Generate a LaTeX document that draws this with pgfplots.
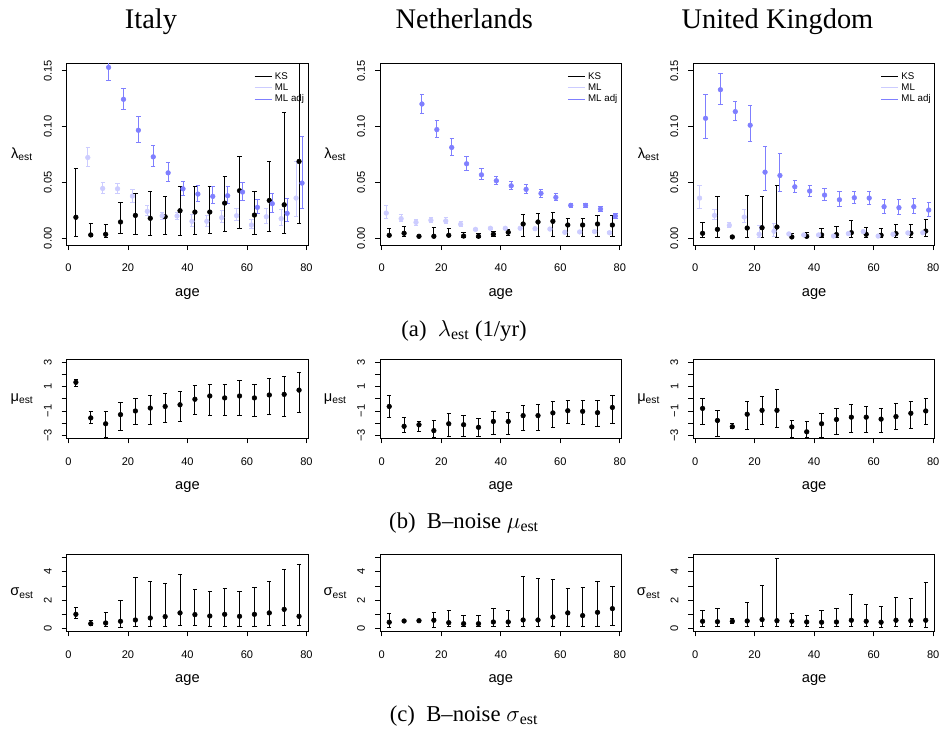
\documentclass[border=0pt]{standalone}
\usepackage{pgfplots}
\pgfplotsset{compat=1.18}
\usepackage{fontspec}
\setmainfont{Liberation Sans}
\newfontfamily\serif{Liberation Serif}
\definecolor{mlcol}{RGB}{204,204,255}
\definecolor{adjcol}{RGB}{127,127,255}
\pgfplotsset{
  rbase/.style={
    scale only axis, width=181.2pt, anchor=south west,
    xmin=-0.6, xmax=80.6, xtick={0,20,40,60,80},
    tick align=outside, xtick pos=bottom, ytick pos=left,
    major tick length=3.75pt, tick style={line width=0.6pt, black},
    axis line style={line width=0.75pt},
    /pgf/number format/assume math mode=true,
    ticklabel style={font=\fontsize{8.3}{10}\selectfont},
    xticklabel shift=7pt,
    yticklabel style={rotate=90, anchor=south},
    yticklabel shift=4pt,
    xlabel={age},
    every axis x label/.style={at={(axis description cs:0.5,0)}, anchor=center, yshift=-36.5pt, font=\fontsize{11}{13}\selectfont},
    every axis y label/.style={at={(axis description cs:0,0.5)}, anchor=center, xshift=-33.5pt, font=\fontsize{11}{13}\selectfont},
    legend image code/.code={\draw[##1] (0pt,0pt) -- (12.75pt,0pt);},
    legend style={at={(1,1)}, anchor=north east, draw=none, fill=none, font=\fontsize{7.3}{8.5}\selectfont, row sep=-2.2pt, cells={anchor=west}, inner sep=1pt, yshift=-3pt},
  },
  lrow/.style={height=135.75pt, ymin=-0.006, ymax=0.156, ytick={0,0.05,0.1,0.15}, yticklabels={0.00,0.05,0.10,0.15}, ylabel={λ\textsubscript{est}}},
  mrow/.style={height=59.25pt, ymin=-3.24, ymax=3.24, ytick={-3,-2,-1,0,1,2,3}, yticklabels={−3,,−1,,1,,3}, ylabel={μ\textsubscript{est}}},
  srow/.style={height=57.45pt, ymin=-0.2, ymax=5.2, ytick={0,1,2,3,4,5}, yticklabels={0,,2,,4,}, ylabel={σ\textsubscript{est}}},
  eb/.style={only marks, mark=*, mark size=1.75pt, forget plot,
    error bars/y dir=both, error bars/y explicit, error bars/error mark=|, error bars/error bar style={line width=0.75pt}, error bars/error mark options={mark size=1.6pt, line width=0.75pt}},
  /pgfplots/table/tb/.style={x=x, y=y, y error plus expr=\thisrow{hi}-\thisrow{y}, y error minus expr=\thisrow{y}-\thisrow{lo}},
}
\newcommand{\leg}{%
  \addlegendimage{black, line width=0.75pt}\addlegendentry{KS}
  \addlegendimage{mlcol, line width=0.75pt}\addlegendentry{ML}
  \addlegendimage{adjcol, line width=0.75pt}\addlegendentry{ML adj}}
\begin{document}
\begin{tikzpicture}
\path[use as bounding box] (0,0) rectangle (705.75pt,-548.25pt);
% titles
\node[anchor=base, inner sep=0pt, font=\serif\fontsize{21.3}{25}\selectfont] at (113.25pt,-21.2pt) {Italy};
\node[anchor=base, inner sep=0pt, font=\serif\fontsize{21.3}{25}\selectfont] at (348.2pt,-21.2pt) {Netherlands};
\node[anchor=base, inner sep=0pt, font=\serif\fontsize{21.3}{25}\selectfont] at (583.1pt,-21.2pt) {United Kingdom};
\node[anchor=base, inner sep=0pt, font=\serif\fontsize{17}{20}\selectfont] at (348pt,-252pt) {(a)~~$\lambda$\textsubscript{est} (1/yr)};
\node[anchor=base, inner sep=0pt, font=\serif\fontsize{17}{20}\selectfont] at (348pt,-396pt) {(b)~~B–noise $\mu$\textsubscript{est}};
\node[anchor=base, inner sep=0pt, font=\serif\fontsize{17}{20}\selectfont] at (348pt,-541pt) {(c)~~B–noise $\sigma$\textsubscript{est}};

% ---------- Row 1: lambda ----------
\begin{axis}[rbase, lrow, at={(50pt,-183.75pt)}]
\leg
\addplot[eb, black] table[tb] {
x y lo hi
2.5 0.0188 0.0020 0.0622
7.5 0.0030 0.0015 0.0130
12.5 0.0036 0.0006 0.0120
17.5 0.0146 0.0045 0.0318
22.5 0.0205 0.0033 0.0400
27.5 0.0179 0.0027 0.0417
32.5 0.0193 0.0033 0.0375
37.5 0.0247 0.0024 0.0461
42.5 0.0235 0.0033 0.0467
47.5 0.0235 0.0042 0.0461
52.5 0.0315 0.0057 0.0554
57.5 0.0426 0.0092 0.0732
62.5 0.0208 0.0030 0.0420
67.5 0.0339 0.0060 0.0690
72.5 0.0300 0.0045 0.1130
77.5 0.0688 0.0134 0.2000
};
\addplot[eb, mlcol] table[tb] {
x y lo hi
6.5 0.0723 0.0640 0.0815
11.5 0.0446 0.0400 0.0500
16.5 0.0443 0.0405 0.0494
21.5 0.0378 0.0324 0.0440
26.5 0.0241 0.0200 0.0295
31.5 0.0202 0.0170 0.0230
36.5 0.0200 0.0167 0.0230
41.5 0.0152 0.0110 0.0210
46.5 0.0152 0.0110 0.0200
51.5 0.0185 0.0137 0.0247
56.5 0.0202 0.0155 0.0265
61.5 0.0119 0.0086 0.0164
66.5 0.0193 0.0134 0.0265
71.5 0.0176 0.0119 0.0259
76.5 0.0360 0.0193 0.0690
};
\addplot[eb, adjcol] table[tb] {
x y lo hi
13.5 0.1530 0.1410 0.1700
18.5 0.1244 0.1149 0.1345
23.5 0.0967 0.0860 0.1086
28.5 0.0729 0.0640 0.0830
33.5 0.0586 0.0512 0.0676
38.5 0.0443 0.0387 0.0512
43.5 0.0396 0.0327 0.0476
48.5 0.0375 0.0307 0.0461
53.5 0.0381 0.0313 0.0467
58.5 0.0414 0.0339 0.0503
63.5 0.0277 0.0226 0.0345
68.5 0.0310 0.0235 0.0405
73.5 0.0223 0.0146 0.0354
78.5 0.0494 0.0265 0.0914
};
\end{axis}

\begin{axis}[rbase, lrow, at={(285pt,-183.75pt)}]
\leg
\addplot[eb, black] table[tb] {
x y lo hi
2.5 0.0027 0.0012 0.0090
7.5 0.0045 0.0020 0.0110
12.5 0.0018 0.0015 0.0021
17.5 0.0018 0.0006 0.0098
22.5 0.0027 0.0012 0.0090
27.5 0.0020 0.0005 0.0054
32.5 0.0018 0.0005 0.0040
37.5 0.0036 0.0012 0.0062
42.5 0.0054 0.0027 0.0080
47.5 0.0128 0.0018 0.0211
52.5 0.0146 0.0020 0.0220
57.5 0.0152 0.0018 0.0229
62.5 0.0119 0.0015 0.0179
67.5 0.0119 0.0015 0.0179
72.5 0.0128 0.0015 0.0202
77.5 0.0119 0.0020 0.0202
};
\addplot[eb, mlcol] table[tb] {
x y lo hi
1.5 0.0226 0.0179 0.0295
6.5 0.0176 0.0146 0.0214
11.5 0.0143 0.0119 0.0164
16.5 0.0161 0.0137 0.0185
21.5 0.0155 0.0128 0.0182
26.5 0.0125 0.0107 0.0146
31.5 0.0080 0.0070 0.0090
36.5 0.0090 0.0080 0.0100
41.5 0.0090 0.0080 0.0100
46.5 0.0090 0.0080 0.0100
51.5 0.0086 0.0076 0.0096
56.5 0.0083 0.0073 0.0093
61.5 0.0054 0.0046 0.0062
66.5 0.0057 0.0049 0.0065
71.5 0.0060 0.0052 0.0068
76.5 0.0050 0.0043 0.0057
};
\addplot[eb, adjcol] table[tb] {
x y lo hi
13.5 0.1202 0.1116 0.1290
18.5 0.0973 0.0899 0.1057
23.5 0.0813 0.0741 0.0890
28.5 0.0667 0.0610 0.0729
33.5 0.0568 0.0527 0.0622
38.5 0.0515 0.0479 0.0557
43.5 0.0470 0.0435 0.0512
48.5 0.0438 0.0402 0.0479
53.5 0.0402 0.0369 0.0438
58.5 0.0366 0.0336 0.0399
63.5 0.0295 0.0274 0.0315
68.5 0.0295 0.0274 0.0315
73.5 0.0262 0.0238 0.0283
78.5 0.0200 0.0179 0.0220
};
\end{axis}

\begin{axis}[rbase, lrow, at={(520pt,-183.75pt)}]
\leg
\addplot[eb, black] table[tb] {
x y lo hi
2.5 0.0045 0.0006 0.0137
7.5 0.0080 0.0010 0.0378
12.5 0.0012 0.0008 0.0016
17.5 0.0092 0.0010 0.0387
22.5 0.0095 0.0010 0.0372
27.5 0.0101 0.0010 0.0470
32.5 0.0012 0.0003 0.0039
37.5 0.0018 0.0003 0.0048
42.5 0.0030 0.0006 0.0090
47.5 0.0033 0.0006 0.0107
52.5 0.0050 0.0010 0.0155
57.5 0.0036 0.0010 0.0098
62.5 0.0027 0.0006 0.0092
67.5 0.0042 0.0010 0.0125
72.5 0.0045 0.0010 0.0125
77.5 0.0065 0.0012 0.0167
};
\addplot[eb, mlcol] table[tb] {
x y lo hi
1.5 0.0360 0.0265 0.0473
6.5 0.0205 0.0167 0.0259
11.5 0.0116 0.0095 0.0137
16.5 0.0190 0.0140 0.0262
21.5 0.0036 0.0005 0.0119
26.5 0.0063 0.0020 0.0130
31.5 0.0039 0.0030 0.0048
36.5 0.0030 0.0022 0.0038
41.5 0.0030 0.0022 0.0038
46.5 0.0020 0.0014 0.0026
51.5 0.0042 0.0032 0.0052
56.5 0.0060 0.0048 0.0072
61.5 0.0020 0.0014 0.0026
66.5 0.0036 0.0028 0.0044
71.5 0.0048 0.0038 0.0058
76.5 0.0050 0.0040 0.0060
};
\addplot[eb, adjcol] table[tb] {
x y lo hi
3.5 0.1074 0.0896 0.1290
8.5 0.1330 0.1200 0.1476
13.5 0.1134 0.1054 0.1223
18.5 0.1012 0.0866 0.1185
23.5 0.0592 0.0432 0.0818
28.5 0.0562 0.0417 0.0756
33.5 0.0461 0.0411 0.0515
38.5 0.0423 0.0378 0.0476
43.5 0.0387 0.0339 0.0443
48.5 0.0345 0.0283 0.0423
53.5 0.0363 0.0310 0.0423
58.5 0.0360 0.0304 0.0423
63.5 0.0283 0.0220 0.0351
68.5 0.0274 0.0214 0.0345
73.5 0.0283 0.0223 0.0354
78.5 0.0253 0.0196 0.0324
};
\end{axis}

% ---------- Row 2: mu ----------
\begin{axis}[rbase, mrow, at={(50pt,-328.7pt)}]
\addplot[eb, black] table[tb] {
x y lo hi
2.5 1.35 1.00 1.62
7.5 -1.57 -2.02 -1.08
12.5 -2.05 -3.14 -1.06
17.5 -1.30 -2.63 -0.33
22.5 -1.00 -2.13 -0.01
27.5 -0.76 -2.07 0.28
32.5 -0.63 -1.94 0.41
37.5 -0.49 -1.83 0.57
42.5 -0.04 -1.32 1.08
47.5 0.23 -1.35 1.19
52.5 0.07 -1.38 1.19
57.5 0.23 -1.38 1.51
62.5 0.07 -1.43 1.14
67.5 0.31 -1.30 1.64
72.5 0.36 -1.48 1.83
77.5 0.71 -1.11 2.13
};
\end{axis}
\begin{axis}[rbase, mrow, at={(285pt,-328.7pt)}]
\addplot[eb, black] table[tb] {
x y lo hi
2.5 -0.63 -1.56 0.23
7.5 -2.26 -2.74 -1.56
12.5 -2.13 -2.66 -1.86
17.5 -2.61 -3.17 -1.80
22.5 -2.05 -3.09 -1.22
27.5 -2.13 -3.09 -1.40
32.5 -2.34 -3.11 -1.64
37.5 -1.86 -2.95 -1.08
42.5 -1.86 -2.95 -1.11
47.5 -1.38 -2.61 -0.55
52.5 -1.38 -2.61 -0.49
57.5 -1.16 -2.39 -0.23
62.5 -0.98 -2.02 -0.17
67.5 -1.03 -2.07 -0.17
72.5 -1.14 -2.26 -0.15
77.5 -0.71 -1.99 0.23
};
\end{axis}
\begin{axis}[rbase, mrow, at={(520pt,-328.7pt)}]
\addplot[eb, black] table[tb] {
x y lo hi
2.5 -0.79 -2.15 0.01
7.5 -1.78 -3.09 -0.98
12.5 -2.29 -2.47 -2.02
17.5 -1.27 -2.55 -0.23
22.5 -0.95 -2.15 0.20
27.5 -0.95 -2.34 0.79
32.5 -2.31 -3.14 -1.78
37.5 -2.71 -3.17 -1.86
42.5 -2.05 -3.14 -1.19
47.5 -1.70 -2.95 -0.79
52.5 -1.51 -2.79 -0.49
57.5 -1.51 -2.74 -0.66
62.5 -1.67 -2.79 -0.82
67.5 -1.46 -2.55 -0.41
72.5 -1.19 -2.42 -0.25
77.5 -1.00 -2.15 0.04
};
\end{axis}

% ---------- Row 3: sigma ----------
\begin{axis}[rbase, srow, at={(50pt,-473.6pt)}]
\addplot[eb, black] table[tb] {
x y lo hi
2.5 1.01 0.75 1.51
7.5 0.35 0.19 0.54
12.5 0.40 0.12 1.15
17.5 0.52 0.09 1.98
22.5 0.61 0.14 3.62
27.5 0.75 0.14 3.34
32.5 0.85 0.14 3.15
37.5 1.11 0.21 3.79
42.5 0.99 0.21 2.78
47.5 0.89 0.16 2.64
52.5 1.01 0.14 2.82
57.5 0.87 0.14 2.64
62.5 1.01 0.16 2.89
67.5 1.11 0.19 3.34
72.5 1.36 0.19 4.19
77.5 0.87 0.19 4.49
};
\end{axis}
\begin{axis}[rbase, srow, at={(285pt,-473.6pt)}]
\addplot[eb, black] table[tb] {
x y lo hi
2.5 0.45 0.09 1.06
7.5 0.54 0.52 0.56
12.5 0.56 0.54 0.58
17.5 0.59 0.09 1.11
22.5 0.42 0.14 1.27
27.5 0.35 0.12 0.96
32.5 0.35 0.12 0.96
37.5 0.47 0.12 1.44
42.5 0.47 0.12 1.29
47.5 0.61 0.12 3.67
52.5 0.61 0.12 3.55
57.5 0.82 0.14 3.48
62.5 1.11 0.14 2.80
67.5 0.92 0.14 2.87
72.5 1.15 0.14 3.32
77.5 1.41 0.19 2.96
};
\end{axis}
\begin{axis}[rbase, srow, at={(520pt,-473.6pt)}]
\addplot[eb, black] table[tb] {
x y lo hi
2.5 0.52 0.12 1.25
7.5 0.49 0.12 1.44
12.5 0.52 0.35 0.71
17.5 0.54 0.12 1.84
22.5 0.64 0.14 3.04
27.5 0.56 0.12 4.92
32.5 0.52 0.12 1.06
37.5 0.47 0.12 0.92
42.5 0.45 0.09 1.25
47.5 0.47 0.12 1.41
52.5 0.59 0.14 2.38
57.5 0.52 0.12 1.67
62.5 0.45 0.09 1.53
67.5 0.59 0.14 2.16
72.5 0.56 0.14 2.12
77.5 0.59 0.09 3.27
};
\end{axis}
\end{tikzpicture}
\end{document}
